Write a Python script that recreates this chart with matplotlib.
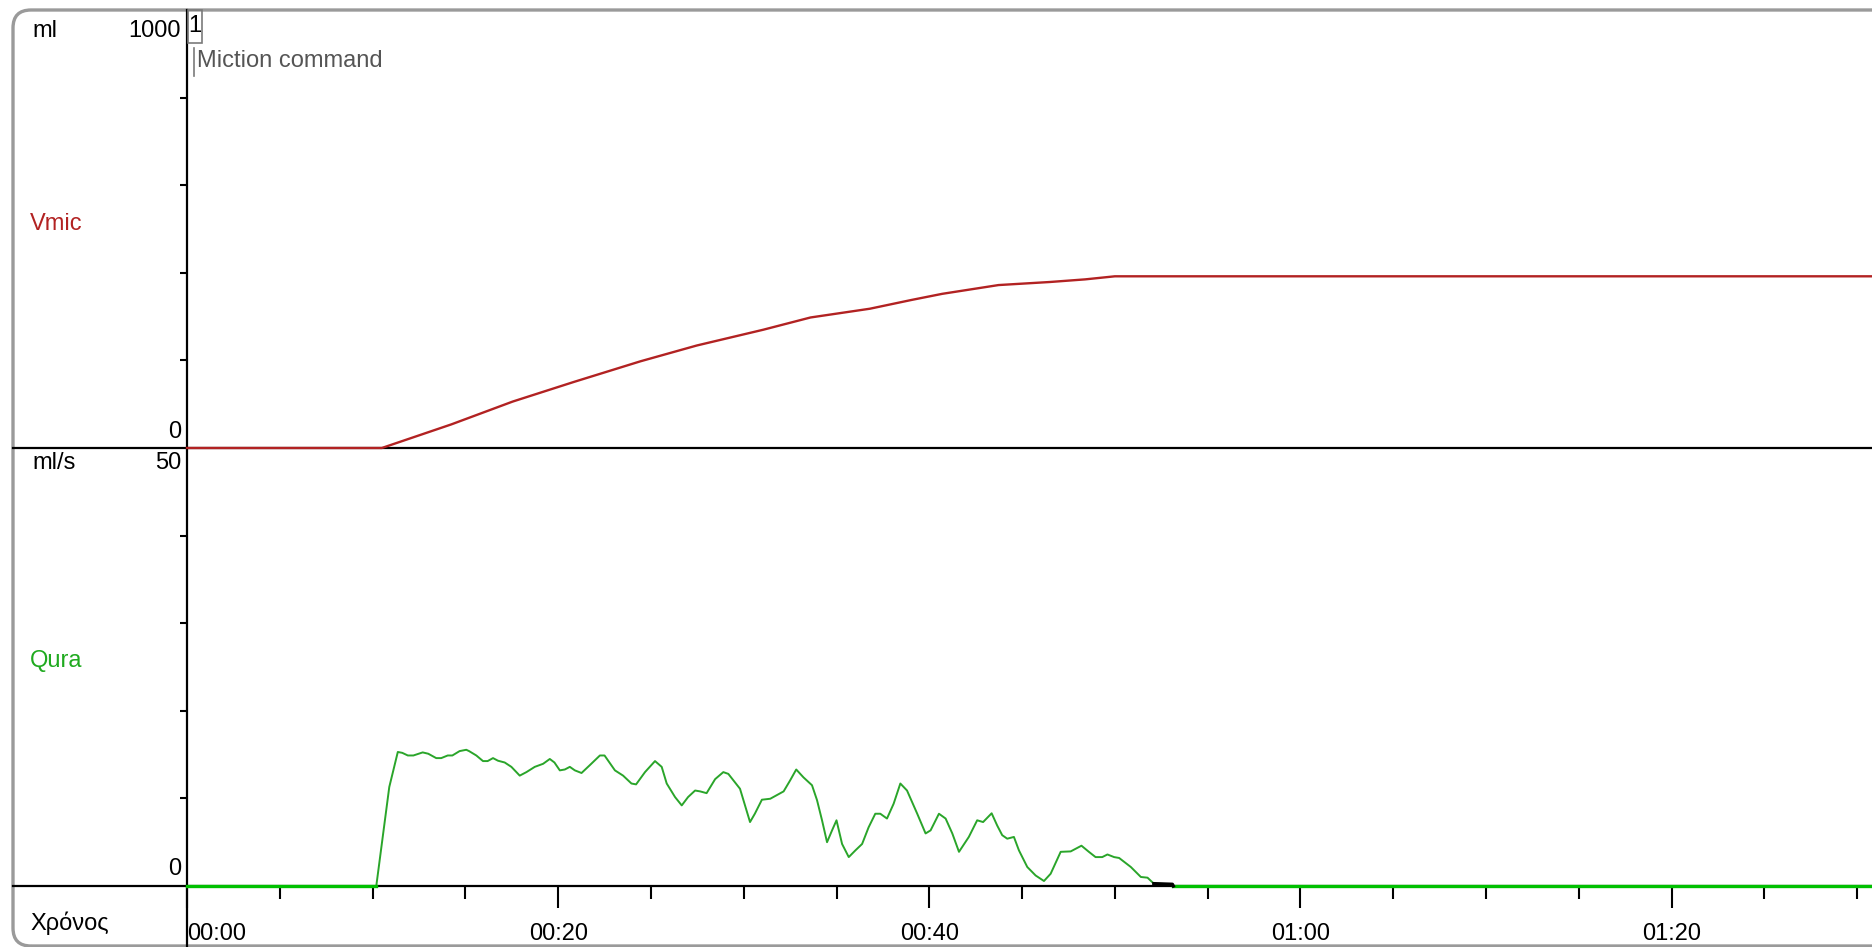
import matplotlib.pyplot as plt
import numpy as np
from matplotlib.lines import Line2D
from matplotlib.patches import FancyBboxPatch, Rectangle
from matplotlib.transforms import IdentityTransform

plt.rcParams['font.family'] = ['Liberation Sans', 'DejaVu Sans']

# voided volume (ml) against time (s)
t_vmic = [0, 10.5, 14.25, 17.55, 20.86, 24.44, 27.47, 31.05, 33.6, 35.2, 36.8,
          39.04, 40.7, 43.73, 46.5, 48.4, 50.0, 90.8]
vmic = [0, 0, 54, 106, 151, 198, 234, 270, 298, 308, 318,
        338, 352, 372, 379, 385, 392, 392]

# urine flow (ml/s) against time (s)
t_qura = [0, 10.2, 10.9, 11.36, 11.6, 11.9, 12.2, 12.7, 13.0, 13.43, 13.7, 14.05,
          14.3, 14.69, 15.05, 15.2, 15.59, 15.95, 16.2, 16.49, 16.76, 17.12, 17.48,
          17.93, 18.29, 18.74, 19.19, 19.55, 19.8, 20.09, 20.36, 20.63, 20.9, 21.26,
          21.71, 22.25, 22.5, 23.06, 23.5, 23.95, 24.2, 24.68, 25.22, 25.58, 25.85,
          26.3, 26.66, 27.0, 27.38, 27.65, 28.0, 28.46, 28.9, 29.17, 29.8, 30.34,
          30.6, 30.98, 31.43, 32.15, 32.5, 32.83, 33.22, 33.68, 33.95, 34.22, 34.49,
          34.76, 35.0, 35.3, 35.66, 36.02, 36.38, 36.73, 37.09, 37.36, 37.72, 38.08,
          38.44, 38.8, 39.35, 39.8, 40.07, 40.52, 40.88, 41.24, 41.6, 42.13, 42.58,
          42.9, 43.36, 43.66, 43.93, 44.2, 44.56, 44.83, 45.28, 45.73, 46.18, 46.54,
          47.08, 47.62, 48.2, 48.6, 48.96, 49.32, 49.6, 49.96, 50.23, 50.86, 51.4,
          51.76, 52.1, 53.1, 53.15, 90.8]
qura = [0, 0, 11.3, 15.3, 15.2, 14.9, 14.9, 15.25, 15.1, 14.6, 14.6, 14.9,
        14.9, 15.4, 15.55, 15.4, 14.9, 14.26, 14.26, 14.6, 14.3, 14.1, 13.6,
        12.6, 13.0, 13.6, 13.95, 14.5, 14.1, 13.2, 13.3, 13.6, 13.2, 12.9,
        13.8, 14.9, 14.9, 13.2, 12.6, 11.7, 11.6, 13.0, 14.26, 13.6, 11.7,
        10.15, 9.2, 10.15, 10.9, 10.8, 10.6, 12.2, 13.0, 12.8, 11.1, 7.3,
        8.25, 9.85, 9.96, 10.8, 12.05, 13.3, 12.4, 11.5, 9.8, 7.5, 5.0,
        6.35, 7.5, 4.8, 3.3, 4.07, 4.8, 6.7, 8.25, 8.25, 7.7, 9.4,
        11.7, 10.9, 8.25, 6.0, 6.35, 8.25, 7.7, 6.0, 3.9, 5.6, 7.5,
        7.3, 8.3, 6.9, 5.8, 5.4, 5.6, 4.07, 2.17, 1.2, 0.57, 1.4,
        3.9, 3.95, 4.6, 3.9, 3.3, 3.3, 3.6, 3.3, 3.2, 2.17, 1.03,
        0.95, 0.27, 0.2, 0, 0]

time_ticks = [0, 20, 40, 60, 80]
time_labels = ['00:00', '00:20', '00:40', '01:00', '01:20']
vmic_ticks = [200, 400, 600, 800]
qura_ticks = [10, 20, 30, 40]

T_END = 90.8
W, H = 1872, 947
RED = '#b22222'
GREEN = '#2aa52a'
FS = 17

fig = plt.figure(figsize=(W / 100, H / 100), dpi=100)
fig.patch.set_facecolor('white')


def fx(px):
    return px / W


def fy(py):
    return 1 - py / H


ax1 = fig.add_axes([fx(187), fy(448), 1 - fx(187), 438 / H])
ax2 = fig.add_axes([fx(187), fy(886), 1 - fx(187), 438 / H])

for ax in (ax1, ax2):
    ax.set_facecolor('none')
    for s in ax.spines.values():
        s.set_visible(False)
    ax.set_xlim(0, T_END)
    ax.tick_params(axis='y', direction='out', length=5, width=1.5, color='black',
                   labelleft=False)

ax1.set_ylim(0, 1000)
ax1.set_yticks(vmic_ticks)
ax1.set_xticks([])

ax2.set_ylim(0, 50)
ax2.set_yticks(qura_ticks)
ax2.set_xticks(time_ticks)
ax2.set_xticks(np.arange(0, T_END, 5), minor=True)
ax2.tick_params(axis='x', which='major', direction='out', length=15.8, width=1.5,
                labelbottom=False)
ax2.tick_params(axis='x', which='minor', direction='out', length=9.4, width=1.5)

# outer frame, separators and vertical axis
fig.add_artist(FancyBboxPatch((13, 1), 1950, 936, boxstyle='round,pad=0,rounding_size=18',
                              transform=IdentityTransform(), fc='none', ec='#9a9a9a',
                              lw=2.4, zorder=-3))
for py in (448, 886):
    fig.add_artist(Line2D([fx(13), 1], [fy(py), fy(py)], color='black', lw=1.6, zorder=-1))
fig.add_artist(Line2D([fx(187), fx(187)], [fy(10), 0], color='black', lw=1.6, zorder=-1))

# curves
ax1.plot(t_vmic, vmic, color=RED, lw=1.7, clip_on=False, zorder=3)

tq = np.array(t_qura)
q = np.array(qura)
ax2.plot(tq, q, color=GREEN, lw=1.4, clip_on=False, zorder=3)
ax2.plot(tq, np.ma.masked_where(q > 0, q), color='#00c000', lw=2.4,
         clip_on=False, zorder=4)
tail = (tq >= 52.1) & (tq <= 53.15)
ax2.plot(tq[tail], q[tail], color='black', lw=2.4, clip_on=False, zorder=4)

# axis labels
fig.text(fx(32), fy(31), 'ml', fontsize=FS, va='center', ha='left')
fig.text(fx(181), fy(31), '1000', fontsize=FS, va='center', ha='right')
fig.text(fx(181), fy(432), '0', fontsize=FS, va='center', ha='right')
fig.text(fx(32), fy(463), 'ml/s', fontsize=FS, va='center', ha='left')
fig.text(fx(181), fy(463), '50', fontsize=FS, va='center', ha='right')
fig.text(fx(181), fy(869), '0', fontsize=FS, va='center', ha='right')
fig.text(fx(30), fy(224), 'Vmic', fontsize=FS, va='center', ha='left', color=RED)
fig.text(fx(30), fy(661), 'Qura', fontsize=FS, va='center', ha='left', color='#1faa1f')
fig.text(fx(30), fy(923), 'Χρόνος', fontsize=FS, va='center', ha='left')

for t, lab in zip(time_ticks, time_labels):
    ax2.text(t, -0.1096, lab, fontsize=FS, va='center',
             ha='left' if t == 0 else 'center',
             transform=ax2.get_xaxis_transform(), clip_on=False)

# event marker
fig.add_artist(Rectangle((fx(188), fy(43)), fx(14), 33 / H, fill=False,
                         ec='#7a7a7a', lw=1.2))
fig.text(fx(195), fy(26), '1', fontsize=FS, va='center', ha='center')
fig.add_artist(Line2D([fx(194), fx(194)], [fy(48), fy(76)], color='#7a7a7a', lw=1.2))
fig.text(fx(197), fy(61), 'Miction command', fontsize=FS, va='center', ha='left',
         color='#555555')

fig.savefig('out.png', dpi=100)
